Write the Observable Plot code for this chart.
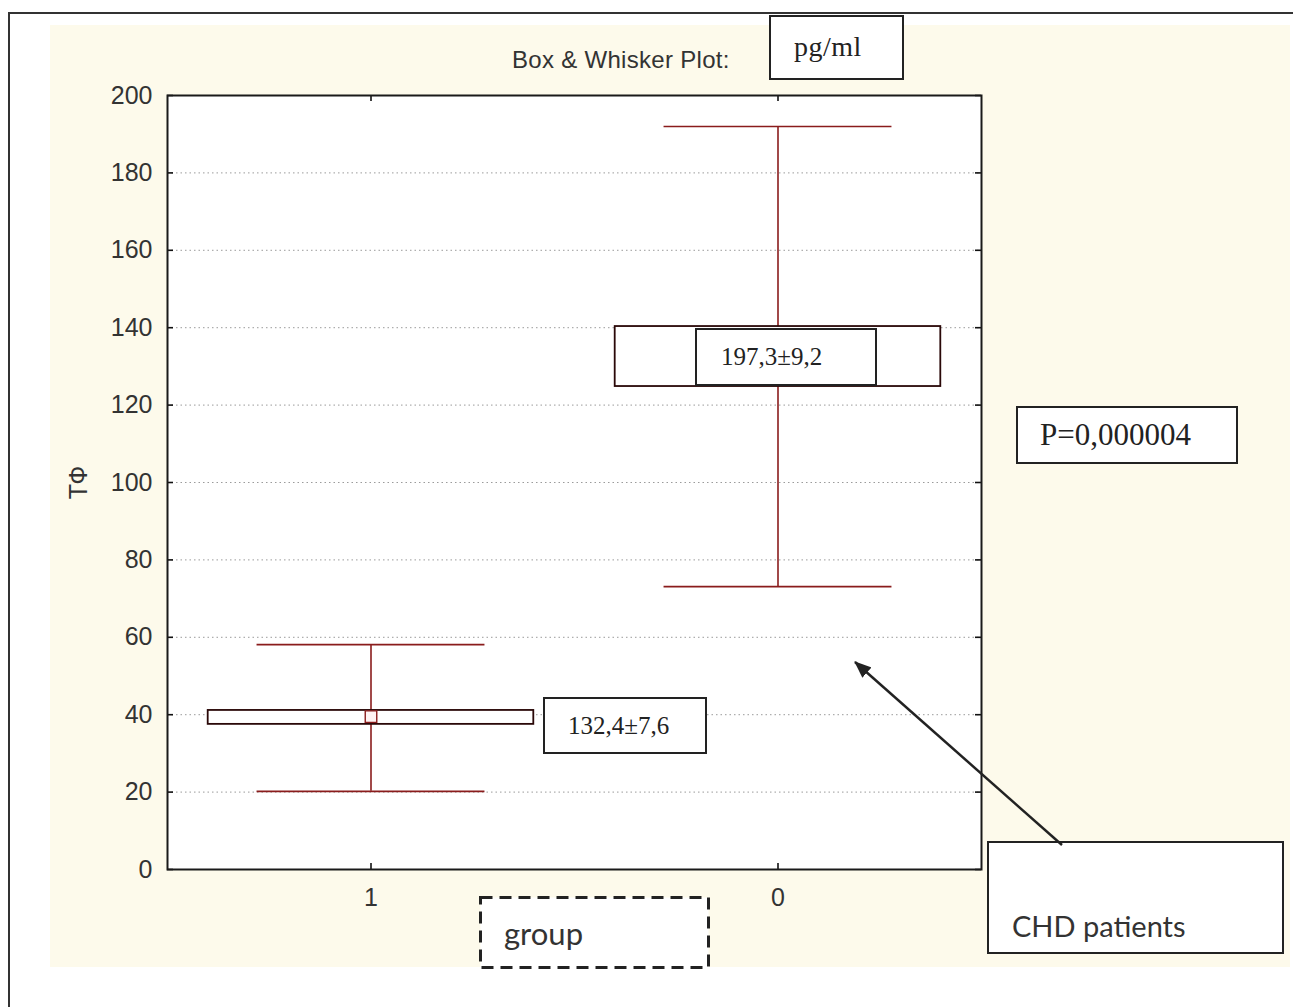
<!DOCTYPE html>
<html>
<head>
<meta charset="utf-8">
<script src="https://cdn.jsdelivr.net/npm/d3@7"></script>
<script src="https://cdn.jsdelivr.net/npm/@observablehq/plot@0.6"></script>
<style>
  html, body { margin: 0; padding: 0; background: #ffffff; }
  #page { position: relative; width: 1293px; height: 1007px; overflow: hidden; }
  .abs { position: absolute; box-sizing: border-box; }
  #outer { left: 8px; top: 12px; width: 1300px; height: 1010px; border-top: 2px solid #333; border-left: 2px solid #333; }
  #cream { left: 50px; top: 25px; width: 1240px; height: 942px; background: #fdfaeb; }
  #chart { left: 0; top: 0; }
  .box { background: #fff; border: 2px solid #222; }
  .serif { font-family: "Liberation Serif", "Times New Roman", serif; color: #222; white-space: nowrap; }
  .sans { font-family: "Liberation Sans", Arial, sans-serif; color: #333; white-space: nowrap; }
  .cal { font-family: Lato, "Open Sans", sans-serif; color: #333; white-space: nowrap; }
</style>
</head>
<body>
<div id="page">
  <div id="outer" class="abs"></div>
  <div id="cream" class="abs"></div>
  <div id="chart" class="abs"></div>

  <div class="abs sans" style="left:512px; top:45px; font-size:24px; letter-spacing:0.3px; line-height:30px;">Box &amp; Whisker Plot:</div>
  <div class="abs box" style="left:769px; top:15px; width:135px; height:65px;">
    <div class="abs serif" style="left:23px; top:15px; font-size:28px; line-height:30px; letter-spacing:0.5px;">pg/ml</div>
  </div>

  <div class="abs box" style="left:695px; top:328px; width:182px; height:58px;">
    <div class="abs serif" style="left:24px; top:12px; font-size:25px; line-height:30px;">197,3±9,2</div>
  </div>

  <div class="abs box" style="left:543px; top:697px; width:164px; height:57px;">
    <div class="abs serif" style="left:23px; top:12px; font-size:25px; line-height:30px;">132,4±7,6</div>
  </div>

  <div class="abs box" style="left:1016px; top:406px; width:222px; height:58px;">
    <div class="abs serif" style="left:22px; top:10px; font-size:31px; line-height:34px;">P=0,000004</div>
  </div>

  <svg class="abs" style="left:478px; top:895px;" width="234" height="76">
    <rect x="2.5" y="2.5" width="228" height="70" fill="#fff" stroke="#222" stroke-width="3" stroke-dasharray="12,7"></rect>
  </svg>
  <div class="abs cal" style="left:504px; top:915px; font-size:31px; line-height:36px;">group</div>

  <div class="abs box" style="left:987px; top:841px; width:297px; height:113px;">
    <div class="abs cal" style="left:23px; top:66px; font-size:29px; line-height:34px;">CHD patients</div>
  </div>

  <svg class="abs" style="left:0; top:0;" width="1293" height="1007">
    <defs>
      <marker id="ah" markerWidth="18" markerHeight="14" refX="16" refY="7" orient="auto" markerUnits="userSpaceOnUse">
        <path d="M0,0 L17,7 L0,14 z" fill="#222"></path>
      </marker>
    </defs>
    <line x1="1062" y1="845" x2="855" y2="662" stroke="#222" stroke-width="2.5" marker-end="url(#ah)"></line>
  </svg>
</div>

<script>
// ---- data ----
const groups = ["1", "0"];
const whiskerLow = [20.2, 73.1];
const whiskerHigh = [58.1, 192.0];
const boxLow = [37.5, 124.8];
const boxHigh = [41.1, 140.3];
const means = [39.5, 132.5];
const yTicks = [0, 20, 40, 60, 80, 100, 120, 140, 160, 180, 200];
const yLabel = "ТФ";

// ---- build ----
const rows = groups.map((g, i) => ({
  g, i, lo: whiskerLow[i], hi: whiskerHigh[i], q1: boxLow[i], q3: boxHigh[i], m: means[i]
}));
const idx = groups.map((g, i) => i);

const BOX_HALF = 0.4;
const CAP_HALF = 0.28;
const RED = "#8a1c1c";
const BOXSTROKE = "#2a0808";

const W = 1293, H = 1007;
const ML = 167, MR = 312, MT = 95, MB = 138;
const FW = W - ML - MR, FH = H - MT - MB;
const TICK = 6;

const chart = Plot.plot({
  width: W,
  height: H,
  marginLeft: ML,
  marginRight: MR,
  marginTop: MT,
  marginBottom: MB,
  style: { background: "transparent", fontFamily: "Liberation Sans, Arial, sans-serif", color: "#333" },
  x: { domain: [-0.5, 1.5], axis: null },
  y: { domain: [0, 200], axis: null },
  marks: [
    Plot.frame({ fill: "white", stroke: null }),
    Plot.gridY(yTicks.slice(1, -1), { stroke: "#8a8a8a", strokeOpacity: 0.85, strokeDasharray: "1.5,3" }),
    Plot.ruleX(rows, { x: "i", y1: "lo", y2: "hi", stroke: RED, strokeWidth: 1.6 }),
    Plot.ruleY(rows, { y: "lo", x1: d => d.i - CAP_HALF, x2: d => d.i + CAP_HALF, stroke: RED, strokeWidth: 1.6 }),
    Plot.ruleY(rows, { y: "hi", x1: d => d.i - CAP_HALF, x2: d => d.i + CAP_HALF, stroke: RED, strokeWidth: 1.6 }),
    Plot.rect(rows, { x1: d => d.i - BOX_HALF, x2: d => d.i + BOX_HALF, y1: "q1", y2: "q3", fill: "white", stroke: BOXSTROKE, strokeWidth: 1.8 }),
    Plot.dot(rows, { x: "i", y: "m", symbol: "square", r: 6.5, stroke: RED, fill: "#fff3f3", strokeWidth: 1.4 }),
    // inside ticks
    Plot.tickY(yTicks, { y: d => d, insetRight: FW - TICK, stroke: "#111", strokeWidth: 1.6 }),
    Plot.tickY(yTicks, { y: d => d, insetLeft: FW - TICK, stroke: "#111", strokeWidth: 1.6 }),
    Plot.tickX(idx, { x: d => d, insetTop: FH - TICK, stroke: "#111", strokeWidth: 1.6 }),
    Plot.tickX(idx, { x: d => d, insetBottom: FH - TICK, stroke: "#111", strokeWidth: 1.6 }),
    Plot.frame({ stroke: "#1a1a1a", strokeWidth: 2 }),
    // labels
    Plot.axisY(yTicks, { anchor: "left", tickSize: 0, tickPadding: 15, fontSize: 25, label: yLabel, labelAnchor: "center", labelOffset: 98, labelArrow: "none" }),
    Plot.axisX(idx, { anchor: "bottom", tickSize: 0, tickPadding: 19, fontSize: 25, tickFormat: i => groups[i], label: null })
  ]
});
document.getElementById("chart").appendChild(chart);
</script>
</body>
</html>
